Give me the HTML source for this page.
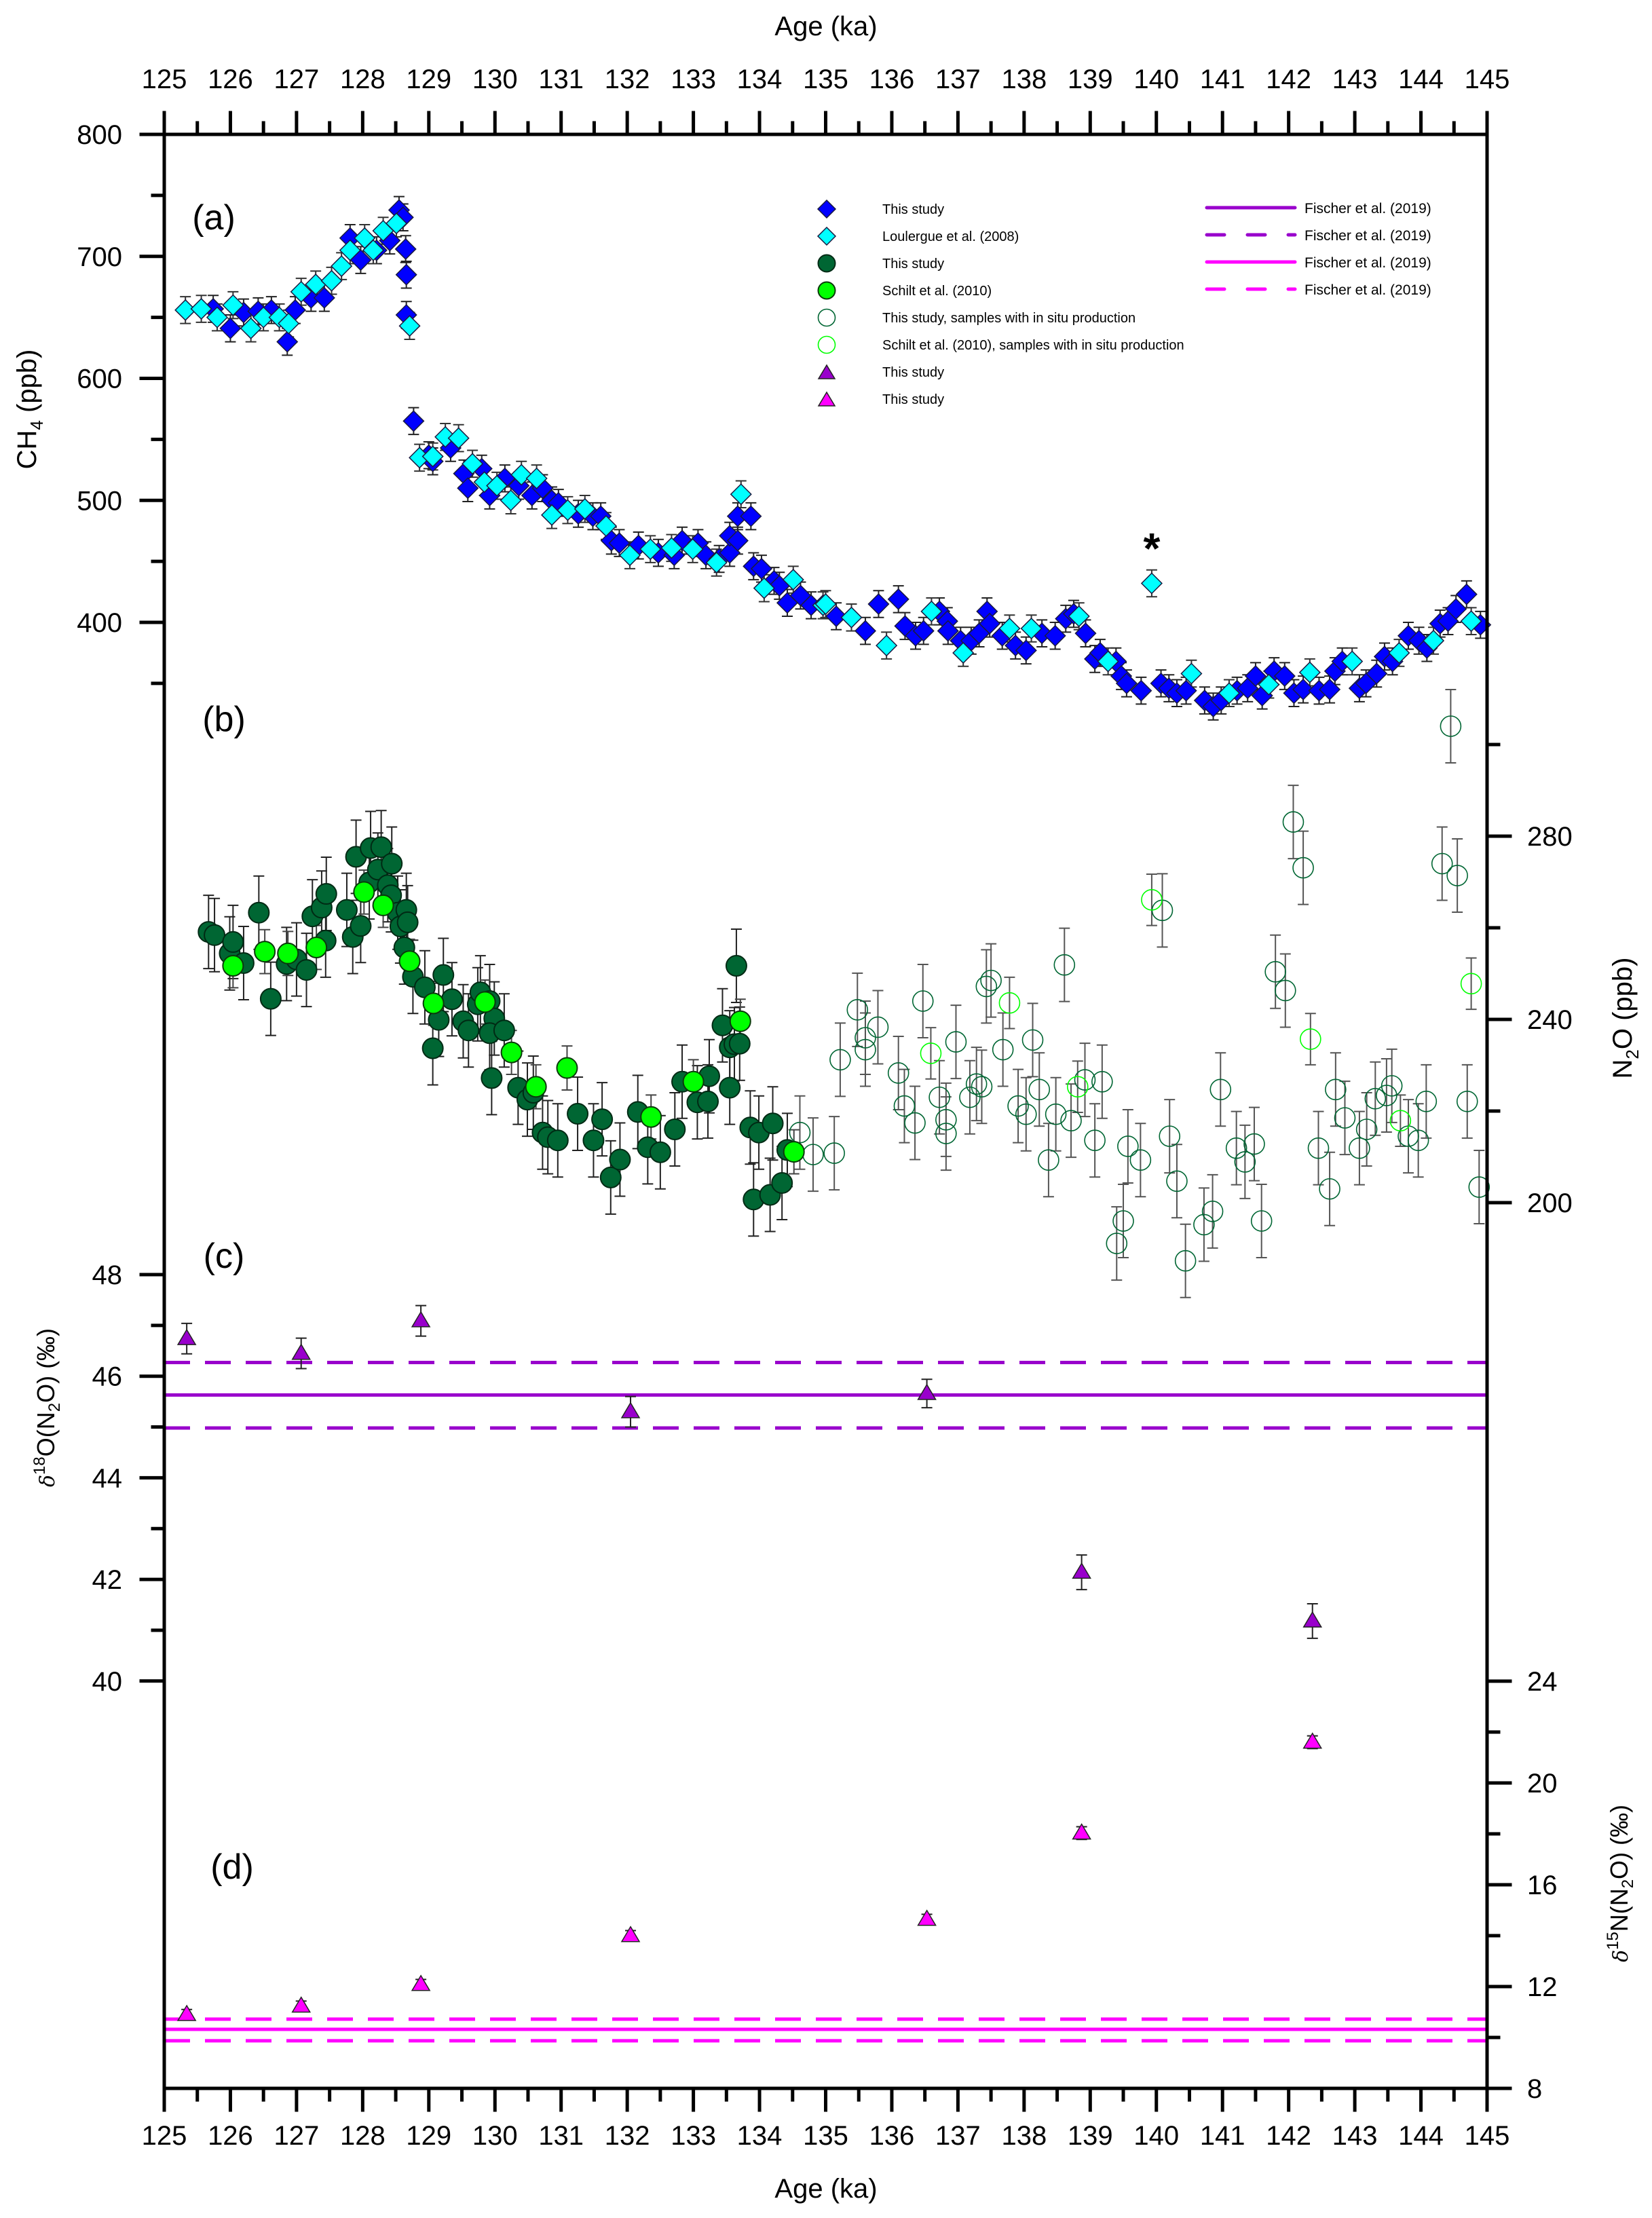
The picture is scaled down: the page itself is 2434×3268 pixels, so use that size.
<!DOCTYPE html>
<html><head><meta charset="utf-8">
<style>
html,body{margin:0;padding:0;background:#fff;}
svg{display:block;font-family:"Liberation Sans",Arial,sans-serif;}
</style></head>
<body>
<svg id="chart" width="2434" height="3268" viewBox="0 0 2434 3268" xmlns="http://www.w3.org/2000/svg">
<rect x="0" y="0" width="2434" height="3268" fill="#fff"/>
<g id="marks"></g>
<g id="frame"></g>
</svg>
<script>
// ---------- DATA ----------
const ch4StudyAge = [125.74,126.0,126.2,126.42,126.62,126.86,126.98,127.22,127.42,127.81,127.97,128.21,128.41,128.55,128.61,128.65,128.66,128.66,128.77,129.0,129.06,129.33,129.53,129.59,129.8,129.92,130.15,130.36,130.56,130.72,130.86,130.96,131.26,131.48,131.6,131.76,131.88,132.17,132.47,132.71,132.83,133.07,133.19,133.39,133.55,133.55,133.67,133.67,133.87,133.91,134.03,134.22,134.3,134.42,134.62,134.78,135.16,135.6,135.8,136.1,136.2,136.36,136.48,136.72,136.84,136.85,137.04,137.2,137.32,137.44,137.48,137.67,137.87,138.03,138.27,138.47,138.63,138.75,138.93,139.07,139.15,139.39,139.47,139.55,139.77,140.07,140.19,140.31,140.45,140.73,140.86,140.98,141.22,141.38,141.5,141.6,141.78,141.94,142.08,142.22,142.46,142.62,142.7,142.81,143.07,143.17,143.33,143.45,143.57,143.81,143.97,144.09,144.29,144.41,144.53,144.69,144.9];
const ch4StudyVal = [657,641,654,655,656,630,656,666,666,715,697,705,713,738,732,706,685,652,565,537,532,543,522,510,526,504,518,512,504,510,500,498,489,487,487,467,465,463,457,455,467,465,455,452,457,471,467,487,487,446,444,434,430,416,422,414,405,393,415,419,397,389,393,409,401,393,385,385,391,409,399,389,381,377,391,389,403,407,391,370,375,368,356,350,344,350,346,342,344,336,331,336,344,346,356,340,360,356,342,345,344,345,360,368,346,350,358,372,368,389,385,379,399,401,411,423,398];
const ch4LoulAge = [125.32,125.56,125.8,126.04,126.31,126.5,126.74,126.88,127.07,127.29,127.53,127.68,127.81,128.03,128.16,128.31,128.51,128.71,128.86,129.06,129.25,129.45,129.66,129.84,130.03,130.24,130.4,130.63,130.86,131.1,131.36,131.68,132.04,132.35,132.67,132.99,133.35,133.72,134.07,134.51,134.96,135.0,135.39,135.92,136.6,137.08,137.78,138.11,138.83,139.27,139.93,140.53,141.1,141.7,142.32,142.96,143.67,144.19,144.76];
const ch4LoulVal = [656,657,650,660,641,650,650,645,671,677,680,692,705,715,705,721,727,643,535,536,552,551,530,515,512,500,521,518,488,492,493,479,455,460,461,460,449,505,428,435,414,415,404,381,409,375,395,395,405,368,432,358,342,349,359,368,375,385,401];
const ch4Err = 11;

const n2oStudyAge = [125.67,125.76,125.99,126.04,126.2,126.43,126.61,126.85,127.0,127.15,127.24,127.38,127.44,127.45,127.76,127.85,127.9,127.97,128.1,128.12,128.23,128.28,128.38,128.44,128.43,128.53,128.57,128.66,128.68,128.63,128.76,128.94,129.22,129.35,129.15,129.06,129.52,129.6,129.74,129.78,129.92,129.99,129.92,130.14,129.95,130.35,130.49,130.58,130.72,130.8,130.95,131.25,131.49,131.62,131.75,131.89,132.16,132.31,132.5,132.72,132.83,133.06,133.22,133.24,133.44,133.55,133.62,133.7,133.55,133.65,133.86,133.99,134.2,133.91,134.16,134.34,134.42];
const n2oStudyVal = [259.1,258.4,254.4,256.9,252.3,263.3,244.5,252.1,253.1,250.8,262.5,264.4,257.2,267.4,263.9,258,275.5,260.4,269.9,277.4,272.7,277.6,269.3,274,267.1,263.3,260.3,263.9,261.2,255.7,249.3,247.0,249.7,244.4,239.9,233.7,239.6,237.6,243.3,245.9,244,240.2,237.0,237.6,227.2,225.1,222.5,224,215.3,214.3,213.6,219.4,213.6,218.2,205.5,209.4,219.8,212.1,211,216,226.4,221.9,222.1,227.6,238.7,233.9,234.6,234.7,225.1,251.7,216.4,215.3,217.3,200.7,201.7,204.3,211.5];
const n2oSchiltAge = [126.04,126.52,126.87,127.3,128.02,128.31,128.71,129.07,129.85,130.25,130.62,131.09,132.36,133.0,133.71,134.52];
const n2oSchiltVal = [251.7,254.8,254.4,255.7,267.8,264.9,252.7,243.5,243.8,232.8,225.3,229.4,218.7,226.4,239.6,211.1];
const n2oInsituAge = [134.61,134.81,135.13,135.22,135.48,135.6,135.6,135.79,136.1,136.19,136.35,136.47,136.72,136.82,136.82,136.97,137.18,137.28,137.36,137.43,137.5,137.68,137.91,138.03,138.13,138.23,138.37,138.48,138.61,138.71,138.92,139.07,139.18,139.4,139.5,139.57,139.76,140.09,140.2,140.31,140.44,140.72,140.85,140.97,141.21,141.34,141.48,141.59,141.8,141.95,142.07,142.22,142.45,142.62,142.71,142.85,143.07,143.18,143.31,143.48,143.56,143.81,143.96,144.08,144.32,144.45,144.55,144.7,144.88];
const n2oInsituVal = [215.3,210.5,210.8,231.2,242.1,236,233.4,238.3,228.3,221.1,217.4,244,223,218.1,215.1,235.1,223,225.9,225.3,247.2,248.5,233.4,221.1,219.3,235.5,224.7,209.3,219.3,251.9,217.9,226.8,213.6,226.4,191.1,196,212.3,209.3,263.8,214.5,204.7,187.3,195.2,198.1,224.7,211.9,208.9,212.8,196,250.4,246.3,283.1,273.1,211.9,203,224.7,218.5,211.9,216,222.7,223.4,225.5,214.5,213.6,222.1,274,304,271.4,222.1,203.4];
const n2oSchiltInsituAge = [136.59,137.78,138.81,139.93,142.33,143.69,144.76];
const n2oSchiltInsituVal = [232.6,243.6,225.3,266.1,235.7,217.9,247.8];
const n2oErr = 8;

const isoAge = [125.34,127.07,128.88,132.05,136.53,138.87,142.36];
const d18oVal = [46.74,46.45,47.09,45.3,45.66,42.14,41.18];
const d18oErr = [0.3,0.3,0.3,0.3,0.28,0.34,0.34];
const d15nVal = [10.9,11.23,12.08,14.0,14.64,18.03,21.6];
const d15nErr = [0.2,0.2,0.2,0.2,0.2,0.25,0.25];

const fischerD18 = [45.63,46.27,44.98];
const fischerD15 = [10.32,10.72,9.87];

const ageTicks = [125,126,127,128,129,130,131,132,133,134,135,136,137,138,139,140,141,142,143,144,145];
const ch4Ticks = [400,500,600,700,800];
const ch4Minor = [350,450,550,650,750];
const n2oTicks = [200,240,280];
const n2oMinor = [220,260,300];
const d18Ticks = [40,42,44,46,48];
const d18Minor = [41,43,45,47];
const d15Ticks = [8,12,16,20,24];
const d15Minor = [10,14,18,22];

// ---------- SCALES ----------
const X0=242, X1=2191, YT=198, YB=3077;
function xS(a){return X0+(a-125)*(X1-X0)/20;}
function yCH4(v){return 198+(800-v)*1.7975;}
function yN2O(v){return 1772-(v-200)*6.75;}
function yD18(v){return 1878+(48-v)*74.85;}
function yD15(v){return 3077-(v-8)*37.5;}

const NS="http://www.w3.org/2000/svg";
const marks=document.getElementById('marks');
const frame=document.getElementById('frame');
function mk(tag,attrs,parent){const e=document.createElementNS(NS,tag);for(const k in attrs)e.setAttribute(k,attrs[k]);(parent||marks).appendChild(e);return e;}

function errbar(x,y1,y2,col,name){
  const g=mk('g',{stroke:col,'stroke-width':2});
  
  
  mk('line',{x1:x,x2:x,y1:y1,y2:y2},g);
  mk('line',{x1:x-8,x2:x+8,y1:y1,y2:y1},g);
  mk('line',{x1:x-8,x2:x+8,y1:y2,y2:y2},g);
}
function diamond(x,y,r,fill,name,parent){
  const p=mk('polygon',{points:`${x},${y-r} ${x+r},${y} ${x},${y+r} ${x-r},${y}`,fill:fill,stroke:'#1a1a40','stroke-width':1.5},parent);
  
  
}
function circle(x,y,r,fill,stroke,name,parent){
  const c=mk('circle',{cx:x,cy:y,r:r,fill:fill,stroke:stroke,'stroke-width':fill==='none'?1.6:2},parent);
  
  
}
function tri(x,y,w,h,fill,name,parent){
  const p=mk('polygon',{points:`${x},${y-h*0.6} ${x+w/2},${y+h*0.4} ${x-w/2},${y+h*0.4}`,fill:fill,stroke:'#222','stroke-width':1.5},parent);
  
  
}

// Fischer lines
fischerD18.forEach((v,i)=>{
  const l=mk('line',{x1:X0,x2:X1,y1:yD18(v),y2:yD18(v),stroke:'#9900cc','stroke-width':5,'stroke-dasharray':i===0?'none':'38 22'});
  
  
});
fischerD15.forEach((v,i)=>{
  const l=mk('line',{x1:X0,x2:X1,y1:yD15(v),y2:yD15(v),stroke:'#ff00ff','stroke-width':5,'stroke-dasharray':i===0?'none':'38 22'});
  
  
});

// N2O error bars then markers
n2oInsituAge.forEach((a,i)=>errbar(xS(a),yN2O(n2oInsituVal[i]+n2oErr),yN2O(n2oInsituVal[i]-n2oErr),'#555','n2o-error-bar'));
n2oSchiltInsituAge.forEach((a,i)=>errbar(xS(a),yN2O(n2oSchiltInsituVal[i]+n2oErr*0.7),yN2O(n2oSchiltInsituVal[i]-n2oErr*0.7),'#555','n2o-error-bar'));
n2oStudyAge.forEach((a,i)=>errbar(xS(a),yN2O(n2oStudyVal[i]+n2oErr),yN2O(n2oStudyVal[i]-n2oErr),'#222','n2o-error-bar'));
n2oSchiltAge.forEach((a,i)=>errbar(xS(a),yN2O(n2oSchiltVal[i]+n2oErr*0.6),yN2O(n2oSchiltVal[i]-n2oErr*0.6),'#444','n2o-error-bar'));
n2oInsituAge.forEach((a,i)=>circle(xS(a),yN2O(n2oInsituVal[i]),15,'none','#006633','n2o-insitu-point'));
n2oSchiltInsituAge.forEach((a,i)=>circle(xS(a),yN2O(n2oSchiltInsituVal[i]),15,'none','#00ff00','n2o-schilt-insitu-point'));
n2oStudyAge.forEach((a,i)=>circle(xS(a),yN2O(n2oStudyVal[i]),15,'#006633','#002a14','n2o-study-point'));
n2oSchiltAge.forEach((a,i)=>circle(xS(a),yN2O(n2oSchiltVal[i]),15,'#00ff00','#0a3a0a','n2o-schilt-point'));

// CH4
ch4StudyAge.forEach((a,i)=>errbar(xS(a),yCH4(ch4StudyVal[i]+ch4Err),yCH4(ch4StudyVal[i]-ch4Err),'#222','ch4-error-bar'));
ch4LoulAge.forEach((a,i)=>errbar(xS(a),yCH4(ch4LoulVal[i]+ch4Err),yCH4(ch4LoulVal[i]-ch4Err),'#333','ch4-error-bar'));
ch4StudyAge.forEach((a,i)=>diamond(xS(a),yCH4(ch4StudyVal[i]),15,'#0000ff','ch4-study-point'));
ch4LoulAge.forEach((a,i)=>diamond(xS(a),yCH4(ch4LoulVal[i]),15,'#00ffff','ch4-loulergue-point'));

// isotopes
isoAge.forEach((a,i)=>{
  errbar(xS(a),yD18(d18oVal[i]+d18oErr[i]),yD18(d18oVal[i]-d18oErr[i]),'#222','d18o-error-bar');
  tri(xS(a),yD18(d18oVal[i]),26,22,'#9900cc','d18o-point');
  errbar(xS(a),yD15(d15nVal[i]+d15nErr[i]),yD15(d15nVal[i]-d15nErr[i]),'#222','d15n-error-bar');
  tri(xS(a),yD15(d15nVal[i]),26,22,'#ff00ff','d15n-point');
});

// ---------- FRAME / AXES ----------
function ln(x1,y1,x2,y2,w,name){
  const l=mk('line',{x1:x1,y1:y1,x2:x2,y2:y2,stroke:'#000','stroke-width':w,'stroke-linecap':'square'},frame);
  
  
  return l;
}
function txt(x,y,s,size,anchor,name,extra){
  const t=mk('text',Object.assign({x:x,y:y,'font-size':size,'text-anchor':anchor||'middle',fill:'#000'},extra||{}),frame);
  t.textContent=s;
  
  
  return t;
}
ln(X0,YT,X1,YT,5,'top-axis');
ln(X0,YB,X1,YB,5,'bottom-axis');
ln(X0,YT,X0,YB,5,'left-axis');
ln(X1,YT,X1,YB,5,'right-axis');

ageTicks.forEach(a=>{
  const x=xS(a);
  ln(x,YT,x,YT-32,5,'top-major-tick');
  ln(x,YB,x,YB+32,5,'bottom-major-tick');
  txt(x,130,String(a),40,'middle','top-tick-label');
  txt(x,3160,String(a),40,'middle','bottom-tick-label');
  if(a<145){
    const xm=xS(a+0.5);
    ln(xm,YT,xm,YT-17,5,'top-minor-tick');
    ln(xm,YB,xm,YB+17,5,'bottom-minor-tick');
  }
});
txt(1217,52,'Age (ka)',40,'middle','top-x-axis-title');
txt(1217,3238,'Age (ka)',40,'middle','bottom-x-axis-title');

function leftTicks(ticks,minor,f){
  ticks.forEach(v=>{ln(X0,f(v),X0-34,f(v),5,'left-major-tick');txt(180,f(v)+14,String(v),40,'end','left-tick-label');});
  minor.forEach(v=>ln(X0,f(v),X0-17,f(v),5,'left-minor-tick'));
}
function rightTicks(ticks,minor,f){
  ticks.forEach(v=>{ln(X1,f(v),X1+34,f(v),5,'right-major-tick');txt(2250,f(v)+14,String(v),40,'start','right-tick-label');});
  minor.forEach(v=>ln(X1,f(v),X1+17,f(v),5,'right-minor-tick'));
}
leftTicks(ch4Ticks,ch4Minor,yCH4);
leftTicks(d18Ticks,d18Minor,yD18);
rightTicks(n2oTicks,n2oMinor,yN2O);
rightTicks(d15Ticks,d15Minor,yD15);

// axis titles
let t=txt(0,0,'',40,'middle','ch4-axis-title',{transform:'translate(53,603) rotate(-90)'});
t.innerHTML='CH<tspan font-size="26" dy="10">4</tspan><tspan dy="-10"> (ppb)</tspan>';
t=txt(0,0,'',36,'middle','d18o-axis-title',{transform:'translate(80,2074) rotate(-90)'});
t.innerHTML='<tspan font-style="italic" font-family="DejaVu Serif, serif" font-size="30">δ</tspan><tspan font-size="24" dy="-14">18</tspan><tspan dy="14">O(N</tspan><tspan font-size="24" dy="8">2</tspan><tspan dy="-8">O) (‰)</tspan>';
t=txt(0,0,'',40,'middle','n2o-axis-title',{transform:'translate(2404,1500) rotate(-90)'});
t.innerHTML='N<tspan font-size="26" dy="10">2</tspan><tspan dy="-10">O (ppb)</tspan>';
t=txt(0,0,'',36,'middle','d15n-axis-title',{transform:'translate(2398,2775) rotate(-90)'});
t.innerHTML='<tspan font-style="italic" font-family="DejaVu Serif, serif" font-size="30">δ</tspan><tspan font-size="24" dy="-14">15</tspan><tspan dy="14">N(N</tspan><tspan font-size="24" dy="8">2</tspan><tspan dy="-8">O) (‰)</tspan>';

// panel labels
txt(315,338,'(a)',52,'middle','panel-label-a');
txt(330,1077,'(b)',52,'middle','panel-label-b');
txt(330,1868,'(c)',52,'middle','panel-label-c');
txt(342,2768,'(d)',52,'middle','panel-label-d');
txt(xS(139.93),830,'*',64,'middle','outlier-asterisk',{'font-weight':'bold'});

// ---------- LEGEND ----------
const lg=mk('g',{},frame);


const legRows=[308,348,388,428,468,508,548,588];
const legLabels=['This study','Loulergue et al. (2008)','This study','Schilt et al. (2010)','This study, samples with in situ production','Schilt et al. (2010), samples with in situ production','This study','This study'];
diamond(1218,legRows[0],13,'#0000ff','legend-ch4-study-marker',lg);
diamond(1218,legRows[1],13,'#00ffff','legend-ch4-loulergue-marker',lg);
circle(1218,legRows[2],12.5,'#006633','#002a14','legend-n2o-study-marker',lg);
circle(1218,legRows[3],12.5,'#00ff00','#0a3a0a','legend-n2o-schilt-marker',lg);
circle(1218,legRows[4],12.5,'none','#006633','legend-n2o-insitu-marker',lg);
circle(1218,legRows[5],12.5,'none','#00ff00','legend-schilt-insitu-marker',lg);
tri(1218,legRows[6]+2,24,20,'#9900cc','legend-d18o-marker',lg);
tri(1218,legRows[7]+2,24,20,'#ff00ff','legend-d15n-marker',lg);
legLabels.forEach((s,i)=>{
  const e=mk('text',{x:1300,y:legRows[i]+7,'font-size':20,fill:'#000'},lg);
  e.textContent=s;
  
  
});
const fRows=[306,346,386,426];
const fCols=['#9900cc','#9900cc','#ff00ff','#ff00ff'];
fRows.forEach((y,i)=>{
  const l=mk('line',{x1:1778,x2:1908,y1:y,y2:y,stroke:fCols[i],'stroke-width':5,'stroke-linecap':'round','stroke-dasharray':i%2?'26 34':'none'},lg);
  
  
  const e=mk('text',{x:1922,y:y+8,'font-size':21,fill:'#000'},lg);
  e.textContent='Fischer et al. (2019)';
  
  
});
</script>
</body></html>
